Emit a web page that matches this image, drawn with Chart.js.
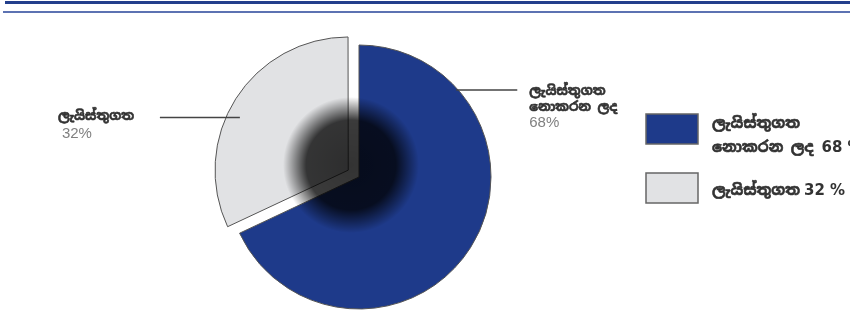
<!DOCTYPE html>
<html>
<head>
<meta charset="utf-8">
<script src="https://cdn.jsdelivr.net/npm/chart.js@4/dist/chart.umd.min.js"></script>
<style>
  html, body { margin: 0; padding: 0; background: #fff; }
  #wrap { width: 850px; height: 315px; position: relative; }
</style>
</head>
<body>
<div id="wrap"><canvas id="pieChart"></canvas></div>
<script>
// data
const labels = ['ලැයිස්තුගත නොකරන ලද', 'ලැයිස්තුගත'];
const labelLines = [['ලැයිස්තුගත', 'නොකරන ලද'], ['ලැයිස්තුගත']];
const values = [68, 32];

const SI_FONT = "'Noto Sans Sinhala', 'Noto Sans', 'DejaVu Sans', sans-serif";
const NUM_FONT = "'Liberation Sans', Arial, sans-serif";
const LEG_NUM_FONT = "'DejaVu Sans', sans-serif";
const sliceColors = ['#1e3a8a', '#e1e2e4'];
const OFFSET = 51; // chart.js moves arc by offset/4 * (1 + fix)

// how far chart.js actually shifts an exploded arc
function arcShift(arc) {
    const half = (arc.startAngle + arc.endAngle) / 2;
    const fix = 1 - Math.sin(Math.min(Math.PI, arc.circumference));
    const d = (arc.options.offset || 0) / 4 * (1 + fix);
    return { dx: Math.cos(half) * d, dy: Math.sin(half) * d };
}

// sinhala fallback font is thin, so thicken it a little
function boldText(ctx, t, x, y) {
    ctx.fillText(t, x, y);
    ctx.save();
    ctx.lineWidth = 0.6;
    ctx.strokeStyle = ctx.fillStyle;
    ctx.strokeText(t, x, y);
    ctx.restore();
}

// top double rule
const topRule = {
    id: 'topRule',
    beforeDraw(chart) {
        const ctx = chart.ctx;
        ctx.save();
        ctx.fillStyle = '#233f8c';
        ctx.fillRect(5, 1, chart.width - 5, 3);
        ctx.fillStyle = '#5c72b2';
        ctx.fillRect(3, 11, chart.width - 3, 2);
        ctx.restore();
    }
};

// dark blurred spot in the middle of the pie
const centerShade = {
    id: 'centerShade',
    afterDatasetsDraw(chart) {
        const arc = chart.getDatasetMeta(0).data[0];
        const ctx = chart.ctx;
        const cx = arc.x - 8, cy = arc.y - 12;
        const g = ctx.createRadialGradient(cx, cy, 0, cx, cy, 68);
        g.addColorStop(0, 'rgba(0,0,0,0.8)');
        g.addColorStop(0.66, 'rgba(0,0,0,0.77)');
        g.addColorStop(1, 'rgba(0,0,0,0)');
        ctx.save();
        ctx.fillStyle = g;
        ctx.beginPath();
        ctx.arc(cx, cy, 68, 0, Math.PI * 2);
        ctx.fill();
        ctx.restore();
    }
};

// callout labels + custom legend
const callouts = {
    id: 'callouts',
    afterDraw(chart) {
        const meta = chart.getDatasetMeta(0);
        const ctx = chart.ctx;
        const blue = meta.data[0], gray = meta.data[1];
        const s = arcShift(gray);
        ctx.save();
        ctx.strokeStyle = '#444';
        ctx.lineWidth = 1.5;
        ctx.textBaseline = 'middle';

        // right label (first slice)
        let y = blue.y - 87;
        let edge = blue.x + Math.sqrt(blue.outerRadius ** 2 - 87 ** 2);
        ctx.beginPath();
        ctx.moveTo(edge - 2, y);
        ctx.lineTo(edge + 59, y);
        ctx.stroke();
        ctx.fillStyle = '#333';
        ctx.font = 'bold 13px ' + SI_FONT;
        labelLines[0].forEach((t, i) => boldText(ctx, t, edge + 71, y + 1 + i * 16));
        ctx.fillStyle = '#808080';
        ctx.font = '15px ' + NUM_FONT;
        ctx.fillText(values[0] + '%', edge + 71, y + 33);

        // left label (second slice)
        const gx = gray.x + s.dx, gy = gray.y + s.dy;
        y = gy - 52;
        edge = gx - Math.sqrt(gray.outerRadius ** 2 - 52 ** 2);
        ctx.beginPath();
        ctx.moveTo(edge - 66, y);
        ctx.lineTo(edge + 14, y);
        ctx.stroke();
        ctx.fillStyle = '#333';
        ctx.font = 'bold 13px ' + SI_FONT;
        boldText(ctx, labelLines[1][0], edge - 168, y - 1);
        ctx.fillStyle = '#808080';
        ctx.font = '15px ' + NUM_FONT;
        ctx.fillText(values[1] + '%', edge - 164, y + 16);

        // legend
        const lx = 646, bw = 52, bh = 30;
        const rows = [114, 173];
        ctx.lineWidth = 1.5;
        ctx.strokeStyle = '#666';
        rows.forEach((ry, i) => {
            ctx.fillStyle = sliceColors[i];
            ctx.fillRect(lx, ry, bw, bh);
            ctx.strokeRect(lx, ry, bw, bh);
        });
        ctx.fillStyle = '#333';
        const tx = 712;
        ctx.font = 'bold 15px ' + SI_FONT;
        boldText(ctx, labelLines[0][0], tx, 124);
        boldText(ctx, labelLines[0][1], tx, 148);
        let w1 = ctx.measureText(labelLines[0][1]).width;
        boldText(ctx, labelLines[1][0], tx, 191);
        let w2 = ctx.measureText(labelLines[1][0]).width;
        ctx.font = 'bold 15px ' + LEG_NUM_FONT;
        ctx.fillText(values[0] + ' %', tx + w1 + 8, 148);
        ctx.fillText(values[1] + ' %', tx + w2 + 4, 191);
        ctx.restore();
    }
};

new Chart(document.getElementById('pieChart'), {
    type: 'pie',
    data: {
        labels: labels,
        datasets: [{
            data: values,
            backgroundColor: sliceColors,
            borderColor: '#555',
            borderWidth: 1,
            offset: [0, OFFSET]
        }]
    },
    options: {
        responsive: true,
        maintainAspectRatio: false,
        animation: false,
        radius: 132,
        layout: { padding: { left: 0, right: 132, top: 39, bottom: 0 } },
        plugins: {
            legend: { display: false },
            tooltip: { enabled: false }
        }
    },
    plugins: [topRule, centerShade, callouts]
});
</script>
</body>
</html>
